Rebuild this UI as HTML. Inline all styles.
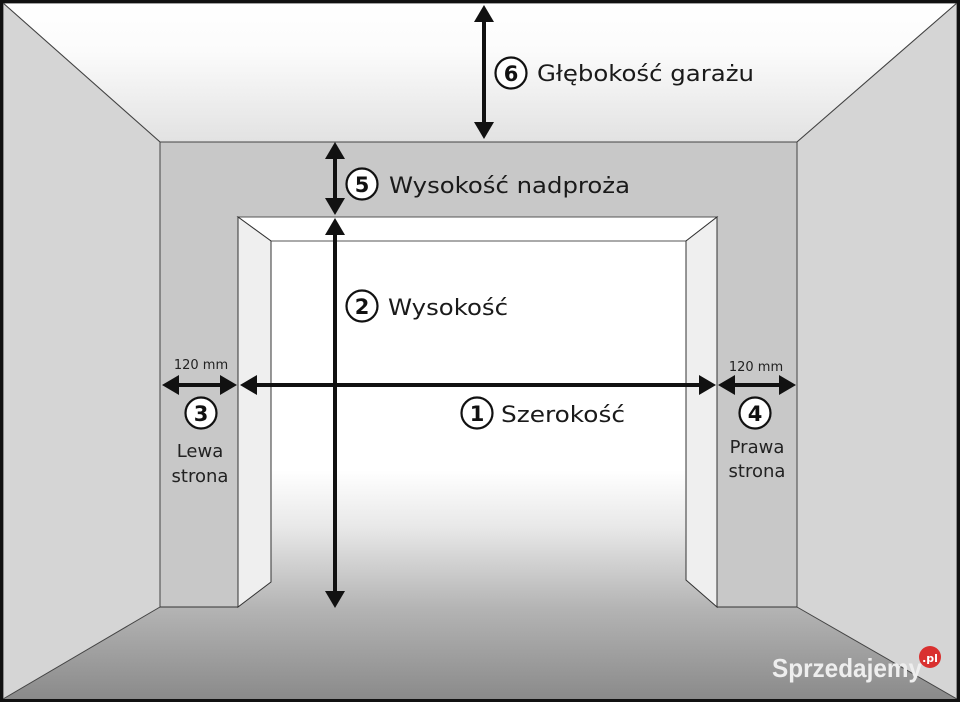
<!DOCTYPE html>
<html><head><meta charset="utf-8"><style>html,body{margin:0;padding:0;background:#fff}svg{display:block}</style></head>
<body>
<svg width="960" height="702" viewBox="0 0 960 702" xmlns="http://www.w3.org/2000/svg" font-family="DejaVu Sans, Liberation Sans, sans-serif">
<defs>
<linearGradient id="ceil" x1="0" y1="0" x2="0" y2="1"><stop offset="0" stop-color="#ffffff"/><stop offset="0.35" stop-color="#fbfbfb"/><stop offset="1" stop-color="#e2e2e2"/></linearGradient>
<linearGradient id="fl" gradientUnits="userSpaceOnUse" x1="0" y1="470" x2="0" y2="700"><stop offset="0" stop-color="#ffffff"/><stop offset="0.25" stop-color="#e8e8e8"/><stop offset="0.6" stop-color="#b4b4b4"/><stop offset="1" stop-color="#8a8a8a"/></linearGradient>
</defs>
<rect x="0" y="0" width="960" height="702" fill="url(#fl)"/>
<polygon points="3,3 957,3 797,142 160,142" fill="url(#ceil)" stroke="#444" stroke-width="1"/>
<polygon points="3,3 160,142 160,607 3,699" fill="#d5d5d5" stroke="#444" stroke-width="1"/>
<polygon points="957,3 797,142 797,607 957,699" fill="#d5d5d5" stroke="#444" stroke-width="1"/>
<path d="M160,142 H797 V607 H717 V217 H238 V607 H160 Z" fill="#c8c8c8" stroke="#444" stroke-width="1"/>
<rect x="238" y="217" width="479" height="390" fill="url(#fl)"/>
<polygon points="238,217 717,217 686,241 271,241" fill="#fff" stroke="#555" stroke-width="1"/>
<polygon points="238,217 271,241 271,582 238,607" fill="#efefef" stroke="#333" stroke-width="1"/>
<polygon points="717,217 686,241 686,580 717,607" fill="#efefef" stroke="#333" stroke-width="1"/>
<line x1="160" y1="607" x2="238" y2="607" stroke="#333"/>
<line x1="717" y1="607" x2="797" y2="607" stroke="#333"/>
<rect x="1.5" y="1.5" width="957" height="699" fill="none" stroke="#111" stroke-width="3"/>
<g fill="#111" stroke="#111">
<line x1="484" y1="18" x2="484" y2="124" stroke-width="4"/>
<polygon points="484,5 474,22 494,22" stroke="none"/>
<polygon points="484,139 474,122 494,122" stroke="none"/>
<line x1="335" y1="155" x2="335" y2="202" stroke-width="4"/>
<polygon points="335,142 325,159 345,159" stroke="none"/>
<polygon points="335,215 325,198 345,198" stroke="none"/>
<line x1="335" y1="230" x2="335" y2="594" stroke-width="4"/>
<polygon points="335,218 325,235 345,235" stroke="none"/>
<polygon points="335,608 325,591 345,591" stroke="none"/>
<line x1="252" y1="385" x2="704" y2="385" stroke-width="4"/>
<polygon points="240,385 257,375 257,395" stroke="none"/>
<polygon points="716,385 699,375 699,395" stroke="none"/>
<line x1="175" y1="385" x2="225" y2="385" stroke-width="4"/>
<polygon points="162,385 179,375 179,395" stroke="none"/>
<polygon points="237,385 220,375 220,395" stroke="none"/>
<line x1="730" y1="385" x2="783" y2="385" stroke-width="4"/>
<polygon points="718,385 735,375 735,395" stroke="none"/>
<polygon points="796,385 779,375 779,395" stroke="none"/>
</g>
<g fill="#fff" stroke="#111" stroke-width="2.2">
<circle cx="511" cy="73" r="15.5"/>
<circle cx="362" cy="184" r="15.5"/>
<circle cx="362" cy="306" r="15.5"/>
<circle cx="477" cy="413" r="15.5"/>
<circle cx="201" cy="413" r="15.5"/>
<circle cx="755" cy="413" r="15.5"/>
</g>
<g font-weight="bold" font-size="21" text-anchor="middle" fill="#111">
<text x="511" y="81">6</text>
<text x="362" y="192">5</text>
<text x="362" y="314">2</text>
<text x="477" y="421">1</text>
<text x="201" y="421">3</text>
<text x="755" y="421">4</text>
</g>
<g font-size="22" fill="#1a1a1a">
<text x="537" y="81" textLength="217" lengthAdjust="spacingAndGlyphs">Głębokość garażu</text>
<text x="389" y="193" textLength="241" lengthAdjust="spacingAndGlyphs">Wysokość nadproża</text>
<text x="388" y="315" textLength="120" lengthAdjust="spacingAndGlyphs">Wysokość</text>
<text x="501" y="422" textLength="124" lengthAdjust="spacingAndGlyphs">Szerokość</text>
</g>
<g font-size="13" fill="#222" text-anchor="middle">
<text x="201" y="369">120 mm</text>
<text x="756" y="371">120 mm</text>
</g>
<g font-size="18" fill="#222" text-anchor="middle">
<text x="200" y="457">Lewa</text>
<text x="200" y="482">strona</text>
<text x="757" y="453">Prawa</text>
<text x="757" y="477">strona</text>
</g>
<text x="772" y="677" font-size="26" font-weight="bold" fill="#eee" font-family="Liberation Sans Narrow, Liberation Sans, sans-serif" textLength="150" lengthAdjust="spacingAndGlyphs">Sprzedajemy</text>
<circle cx="930" cy="657" r="11" fill="#d9302f"/>
<text x="930" y="662" font-size="11" font-weight="bold" fill="#fff" text-anchor="middle">.pl</text>
</svg>
</body></html>
